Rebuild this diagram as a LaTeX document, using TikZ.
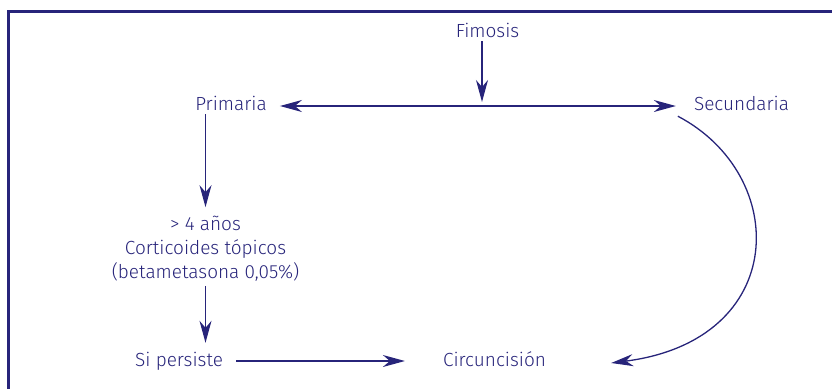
\documentclass[tikz,border=0pt]{standalone}
\usepackage{fontspec}
\setmainfont{Fira Sans Light}
\usetikzlibrary{arrows.meta}
\definecolor{navy}{HTML}{27247A}
\begin{document}
\begin{tikzpicture}[x=1pt,y=-1pt,
  lbl/.style={anchor=base, inner sep=0pt, text height=14pt, text depth=4pt, font=\fontsize{19}{24}\selectfont, text=navy},
  tip/.style={Stealth[length=22pt,width=12pt,inset=7pt]},
  conn/.style={draw=navy, line width=1.3pt, -{Stealth[length=22pt,width=12pt,inset=7pt]}},
  conn2/.style={draw=navy, line width=1.3pt, {Stealth[length=22pt,width=12pt,inset=7pt]}-{Stealth[length=22pt,width=12pt,inset=7pt]}},
  frame/.style={draw=navy, line width=3pt}]
\useasboundingbox (0,0) rectangle (832,389);
\draw[frame] (832,11.5) -- (8.7,11.5) -- (8.7,389);
\node[lbl] (fim) at (487.5,37) {Fimosis};
\node[lbl] (prim) at (231,110) {Primaria};
\node[lbl] (sec) at (741.5,110) {Secundaria};
\node[inner sep=0pt, align=center, font=\fontsize{19}{24}\selectfont, text=navy] (cort) at (205.5,249) {> 4 años\\Corticoides tópicos\\(betametasona 0,05\%)};
\node[lbl] (si) at (179,366) {Si persiste};
\node[lbl] (circ) at (494.5,366) {Circuncisión};
\coordinate (junc) at (482,102);
\draw[conn] (fim.south -| junc) -- (junc);
\draw[conn2] ([xshift=13pt,yshift=-1pt]prim.east) -- ([xshift=-18pt,yshift=-1pt]sec.west);
\draw[conn, shorten >=9pt] (prim.south -| cort.north) -- (cort.north);
\draw[conn, shorten >=9pt, shorten <=4pt] (cort.south) -- (cort.south |- si.north);
\draw[conn, shorten <=13pt, shorten >=38pt] (si.east) -- (circ.west);
\draw[conn] ([xshift=-16pt,yshift=-2pt]sec.south west) .. controls (790,175) and (790,340) .. ([xshift=65pt,yshift=-2pt]circ.east);
\end{tikzpicture}
\end{document}
